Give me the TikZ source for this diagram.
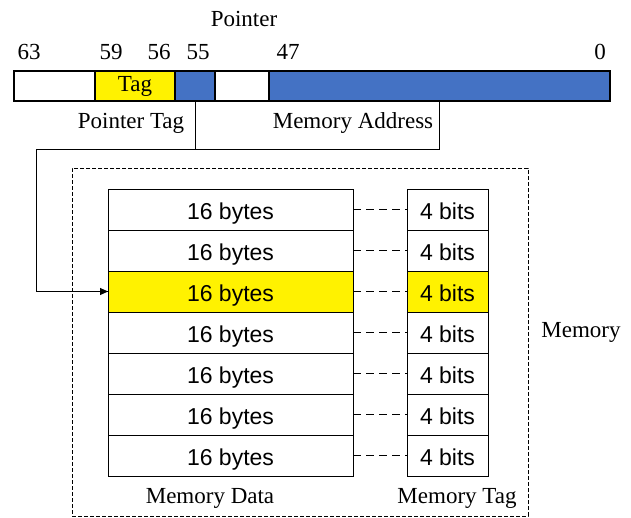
\documentclass[tikz,border=0pt]{standalone}
\usepackage{fontspec}
\setmainfont{Liberation Serif}
\newfontfamily\helv{Liberation Sans}
\usetikzlibrary{positioning,arrows.meta}

\definecolor{ptrblue}{HTML}{4472C4}

\begin{document}
\begin{tikzpicture}[x=1pt, y=-1pt,
  font=\fontsize{23}{27}\selectfont, >={Triangle[length=8pt, width=7pt]},
  seg/.style={draw, line width=1.2pt, minimum height=30pt, inner sep=0pt, outer sep=0pt},
  cell/.style={draw, line width=1pt, minimum height=41pt, inner sep=0pt, outer sep=0pt,
    text height=19pt, text depth=0pt, font=\helv\fontsize{23}{27}\selectfont},
  datacell/.style={cell, minimum width=245pt},
  tagcell/.style={cell, minimum width=81pt},
  lbl/.style={inner sep=0pt},
  link/.style={line width=1pt, dash pattern=on 8pt off 5pt},
  membox/.style={draw, line width=1pt, dash pattern=on 4pt off 2pt, inner sep=0pt},
  wire/.style={line width=1pt},
]
\useasboundingbox (0,0) rectangle (631,517);
% ---- pointer (top) ----
\node[lbl] (ptr) at (244,19) {Pointer};
\node[seg, minimum width=81pt] (b63) at (54.5,86) {};
\node[seg, fill=yellow, minimum width=80pt, right=0pt of b63] (tag) {Tag};
\node[seg, fill=ptrblue, minimum width=40pt, right=0pt of tag] (b55) {};
\node[seg, minimum width=54pt, right=0pt of b55] (b51) {};
\node[seg, fill=ptrblue, minimum width=341pt, right=0pt of b51] (addr) {};
% ---- bit numbers ----
\foreach \n/\x in {63/29, 59/111, 56/159, 55/198, 47/288, 0/600}
  \node[lbl] (n\n) at (\x,52) {\n};
\node[lbl] (ptag) at (131,123) {Pointer Tag};
\node[lbl] (maddr) at (353,123) {Memory Address};
% ---- memory (dashed) ----
\node[membox, minimum width=456pt, minimum height=348pt] (memory) at (300,342) {};
\node[lbl] (memlbl) at (581,332) {Memory};
\foreach \i/\c in {1/white,2/white,3/yellow,4/white,5/white,6/white,7/white} {
  \node[datacell, fill=\c] (d\i) at (230.5,{168.5+41*\i}) {16 bytes};
  \node[tagcell, fill=\c] (t\i) at (447.5,{168.5+41*\i}) {4 bits};
  \draw[link] (d\i) -- (t\i);
}
\node[lbl] (mdata) at (210,498) {Memory Data};
\node[lbl] (mtag) at (457,498) {Memory Tag};
% ---- address to memory ----
\coordinate (turn) at (36,149);
\draw[wire] (b55.south) -- (b55.south |- turn);
\draw[wire] (addr.south) -- (addr.south |- turn) -- (turn) |- (d3.west);
\draw[wire, ->] (turn |- d3.west) -- (d3.west);
\end{tikzpicture}
\end{document}
